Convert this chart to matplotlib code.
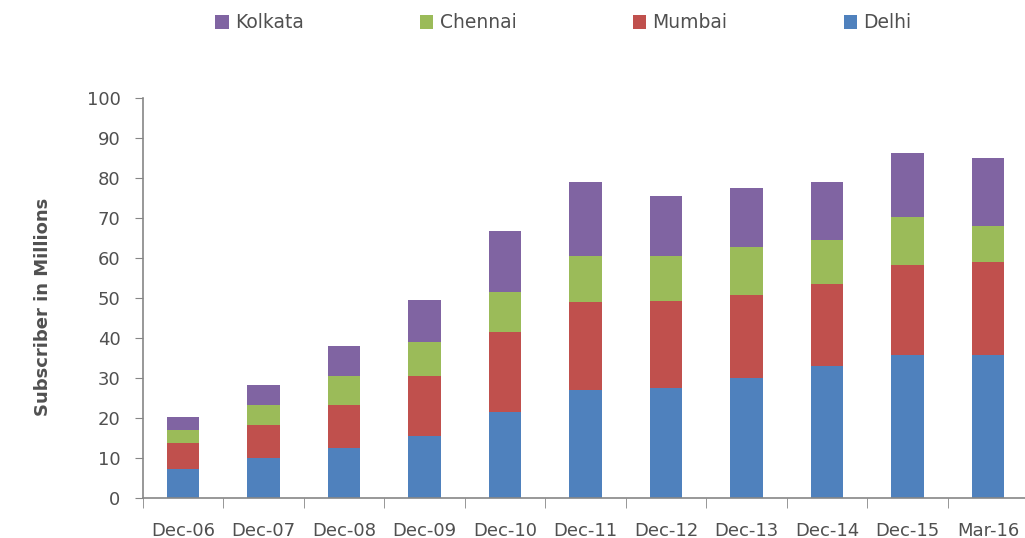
import matplotlib
matplotlib.use("Agg")
import matplotlib.pyplot as plt
from matplotlib.patches import Patch
import numpy as np

categories = ["Dec-06", "Dec-07", "Dec-08", "Dec-09", "Dec-10", "Dec-11",
              "Dec-12", "Dec-13", "Dec-14", "Dec-15", "Mar-16"]
delhi   = [7.2, 10.0, 12.6, 15.6, 21.6, 26.9, 27.5, 30.1, 33.1, 35.8, 35.8]
mumbai  = [6.5, 8.3, 10.7, 14.8, 20.0, 22.0, 21.8, 20.7, 20.5, 22.5, 23.1]
chennai = [3.3, 5.0, 7.1, 8.5, 9.8, 11.5, 11.3, 11.9, 11.0, 11.9, 9.2]
kolkata = [3.3, 5.0, 7.5, 10.5, 15.4, 18.5, 14.8, 14.8, 14.3, 16.1, 16.9]
y_ticks = [0, 10, 20, 30, 40, 50, 60, 70, 80, 90, 100]

colors = {"Delhi": "#4F81BD", "Mumbai": "#C0504D",
          "Chennai": "#9BBB59", "Kolkata": "#8064A2"}

plt.rcParams['font.family'] = ['DejaVu Sans']
txt = "#505050"
axc = "#868686"

W, H = 1025, 538
fig = plt.figure(figsize=(W / 100, H / 100), dpi=100)
left, right, top, bottom = 142.75, 1028.25, 98, 498
ax = fig.add_axes([left / W, 1 - bottom / H, (right - left) / W, (bottom - top) / H])

x = np.arange(len(categories))
bw = 0.4
series = [("Delhi", delhi), ("Mumbai", mumbai), ("Chennai", chennai), ("Kolkata", kolkata)]
base = np.zeros(len(categories))
for name, vals in series:
    ax.bar(x, vals, bw, bottom=base, color=colors[name], edgecolor="none")
    base += np.array(vals)

ax.set_xlim(-0.5, len(categories) - 0.5)
ax.set_ylim(0, 100)
ax.set_yticks(y_ticks)
ax.set_yticklabels([str(t) for t in y_ticks], fontsize=13, color=txt)
ax.set_xticks(x)
ax.set_xticklabels(categories, fontsize=13, color=txt)
ax.tick_params(axis='x', length=0, pad=17)
ax.set_xticks(np.arange(len(categories) + 1) - 0.5, minor=True)
ax.tick_params(axis='x', which='minor', length=7, color=axc, direction='out')
ax.tick_params(axis='y', length=6, color=axc, direction='out', pad=10)

for s in ["top", "right"]:
    ax.spines[s].set_visible(False)
for s in ["left", "bottom"]:
    ax.spines[s].set_color(axc)
    ax.spines[s].set_linewidth(1.2)

ax.set_ylabel("Subscriber in Millions", fontsize=13, fontweight="bold", color=txt)
ax.yaxis.set_label_coords((52 - left) / (right - left), (bottom - 307) / (bottom - top))

handles = [Patch(facecolor=colors[n], edgecolor="none") for n in ["Kolkata", "Chennai", "Mumbai", "Delhi"]]
fig.legend(handles, ["Kolkata", "Chennai", "Mumbai", "Delhi"], loc="center",
           bbox_to_anchor=(563.5 / W, 1 - 23 / H), ncol=4, frameon=False,
           fontsize=13.5, handlelength=0.7, handleheight=0.7, handletextpad=0.35,
           columnspacing=6.2, labelcolor=txt)

fig.savefig("out.png", dpi=100)
